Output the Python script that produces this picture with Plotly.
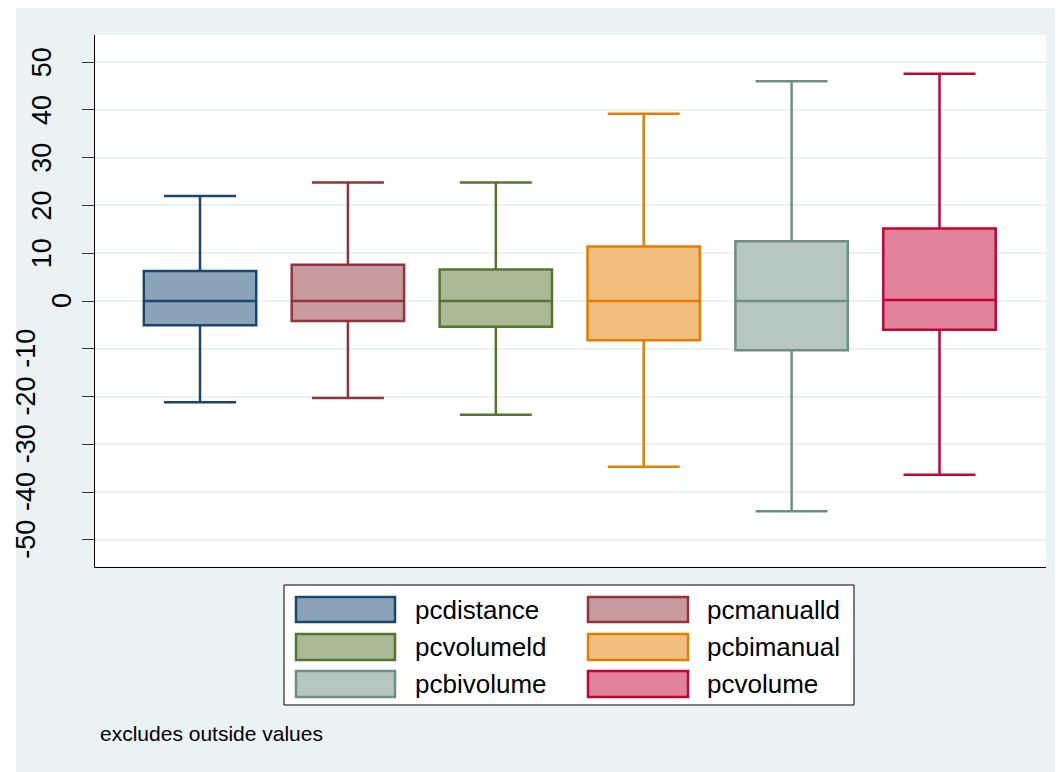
import plotly.graph_objects as go

# box statistics (percent change)
names = ["pcdistance", "pcmanualld", "pcvolumeld", "pcbimanual", "pcbivolume", "pcvolume"]
upper = [22.0, 24.8, 24.8, 39.2, 46.0, 47.6]
q3 = [6.3, 7.6, 6.6, 11.4, 12.5, 15.2]
median = [0.0, 0.0, 0.0, 0.0, 0.0, 0.2]
q1 = [-5.1, -4.2, -5.4, -8.2, -10.3, -6.0]
lower = [-21.2, -20.3, -23.8, -34.7, -44.0, -36.4]

line_colors = ["#1a476f", "#90353b", "#55752f", "#e37e00", "#6e8e84", "#c10534"]
fill_colors = ["#8ca3b7", "#c89a9d", "#aaba97", "#f1be80", "#b6c7c2", "#e0829a"]

ytick_vals = [50, 40, 30, 20, 10, 0, -10, -20, -30, -40, -50]
note = "excludes outside values"

FONT = "Liberation Sans, Arial, sans-serif"
OFF = 8  # page body margin: the figure starts 8px in from the window corner
W, H = 1063 - OFF, 772 - OFF
# plot area in window pixels
L, R, T, B = 95, 1046, 35, 567


def px(x):
    return (x - L) / (R - L)


def py(y):
    return (B - y) / (B - T)


fig = go.Figure()
for i, n in enumerate(names):
    fig.add_trace(go.Box(
        x=[i], name=n,
        q1=[q1[i]], median=[median[i]], q3=[q3[i]],
        lowerfence=[lower[i]], upperfence=[upper[i]],
        width=0.76, whiskerwidth=0.64,
        fillcolor=fill_colors[i],
        line=dict(color=line_colors[i], width=2.5),
        boxpoints=False, showlegend=False,
    ))

shapes = [
    # white strip on the left, outside the light background
    dict(type="rect", xref="paper", yref="paper", x0=px(0), x1=px(16), y0=py(800), y1=py(0),
         fillcolor="white", line_width=0, layer="below"),
    # legend frame
    dict(type="rect", xref="paper", yref="paper", x0=px(284), x1=px(854), y0=py(705), y1=py(585),
         fillcolor="white", line=dict(color="black", width=1)),
]
annotations = []

# y tick labels, rotated and staggered like the original
for v in ytick_vals:
    cx = 62 if v == 0 else (42 if v > 0 else 26)
    annotations.append(dict(
        x=0, xref="paper", y=v, yref="y", text=str(v), showarrow=False,
        textangle=-90, xanchor="center", yanchor="middle", xshift=cx - L, borderpad=0,
        font=dict(family=FONT, size=27, color="black"),
    ))

# legend: two columns, three rows
col_x = [(296, 395, 413), (588, 688, 705)]
row_y = [(597, 622), (634, 660), (671, 697)]
for i, n in enumerate(names):
    sx0, sx1, tx = col_x[i % 2]
    y0, y1 = row_y[i // 2]
    shapes.append(dict(type="rect", xref="paper", yref="paper",
                       x0=px(sx0), x1=px(sx1), y0=py(y1), y1=py(y0),
                       fillcolor=fill_colors[i], line=dict(color=line_colors[i], width=2.5)))
    annotations.append(dict(x=px(tx), y=py((y0 + y1) / 2), xref="paper", yref="paper",
                            text=n, showarrow=False, xanchor="left", yanchor="middle",
                            font=dict(family=FONT, size=26, color="black")))

annotations.append(dict(x=px(98), y=py(733), xref="paper", yref="paper", text=note,
                        showarrow=False, xanchor="left", yanchor="middle",
                        font=dict(family=FONT, size=21, color="black")))

fig.update_layout(
    width=W, height=H,
    margin=dict(l=L - OFF, r=1063 - R, t=T - OFF, b=772 - B),
    paper_bgcolor="#eaf2f3", plot_bgcolor="white",
    font=dict(family=FONT),
    boxmode="overlay",
    shapes=shapes, annotations=annotations,
    xaxis=dict(range=[-0.71, 5.72], showticklabels=False, ticks="", showgrid=False,
               zeroline=False, showline=True, linecolor="black", linewidth=1.2),
    yaxis=dict(range=[-55.7, 55.7], tickvals=ytick_vals, showticklabels=False,
               ticks="outside", ticklen=12, tickwidth=1.2, tickcolor="#333333",
               showgrid=True, gridcolor="#eaf2f3", gridwidth=2, zeroline=False,
               showline=True, linecolor="black", linewidth=1.2),
)

fig.write_html("out.html")
